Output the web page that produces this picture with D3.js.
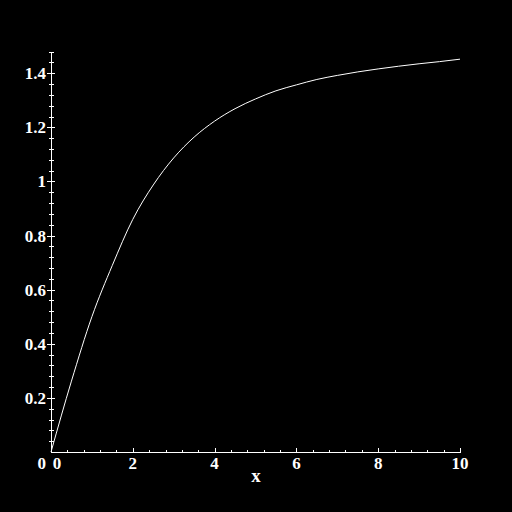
<!DOCTYPE html>
<html>
<head>
<meta charset="utf-8">
<script src="https://cdn.jsdelivr.net/npm/d3@7"></script>
<style>
  body { margin: 0; background: #000; }
  svg { display: block; }
  text { font-family: "Liberation Serif", "DejaVu Serif", serif; font-weight: bold; fill: #fff; }
</style>
</head>
<body>
<svg width="512" height="512"></svg>
<script>
// curve values
var xs = [0, 0.5, 1, 1.5, 2, 2.5, 3, 3.5, 4, 4.5, 5, 5.5, 6, 6.5, 7, 7.5, 8, 8.5, 9, 9.5, 10];
var ys = [0, 0.262, 0.5, 0.69, 0.86, 0.987, 1.087, 1.164, 1.223, 1.269, 1.305, 1.335, 1.357, 1.377, 1.392, 1.405, 1.416, 1.426, 1.435, 1.443, 1.452];

var xMajor = [0, 2, 4, 6, 8, 10];
var yMajor = [0, 0.2, 0.4, 0.6, 0.8, 1, 1.2, 1.4];
var xLabel = "x";

var svg = d3.select("svg");

svg.append("rect").attr("width", 512).attr("height", 512).attr("fill", "#000");

var x = d3.scaleLinear().domain([0, 10]).range([51, 460]);
var y = d3.scaleLinear().domain([0, 1.48]).range([452, 51.6]);

// minor ticks every 0.4 on x, 0.04 on y
var xMinor = d3.range(0, 10.001, 0.4);
var yMinor = d3.range(0, 1.4801, 0.04);

var axes = svg.append("g").attr("stroke", "#fff").attr("stroke-width", 1).attr("shape-rendering", "crispEdges");

// x axis line
axes.append("line")
  .attr("x1", x(0)).attr("x2", x(10))
  .attr("y1", y(0) + 0.5).attr("y2", y(0) + 0.5);

// y axis line
axes.append("line")
  .attr("x1", x(0) + 0.5).attr("x2", x(0) + 0.5)
  .attr("y1", y(1.48)).attr("y2", y(0) + 1);

axes.selectAll(".xminor")
  .data(xMinor.filter(function(d) { return d > 0; }))
  .enter().append("line")
  .attr("x1", function(d) { return Math.round(x(d)) + 0.5; })
  .attr("x2", function(d) { return Math.round(x(d)) + 0.5; })
  .attr("y1", y(0) - 2).attr("y2", y(0) + 1);

axes.selectAll(".xmajor")
  .data(xMajor.filter(function(d) { return d > 0; }))
  .enter().append("line")
  .attr("x1", function(d) { return Math.round(x(d)) + 0.5; })
  .attr("x2", function(d) { return Math.round(x(d)) + 0.5; })
  .attr("y1", y(0) - 4).attr("y2", y(0) + 1);

axes.selectAll(".yminor")
  .data(yMinor.filter(function(d) { return d > 0; }))
  .enter().append("line")
  .attr("x1", x(0) - 2).attr("x2", x(0) + 3)
  .attr("y1", function(d) { return Math.round(y(d)) + 0.5; })
  .attr("y2", function(d) { return Math.round(y(d)) + 0.5; });

axes.selectAll(".ymajor")
  .data(yMajor.filter(function(d) { return d > 0; }))
  .enter().append("line")
  .attr("x1", x(0) - 4).attr("x2", x(0) + 4)
  .attr("y1", function(d) { return Math.round(y(d)) + 0.5; })
  .attr("y2", function(d) { return Math.round(y(d)) + 0.5; });

// labels
svg.selectAll(".xlab")
  .data(xMajor)
  .enter().append("text")
  .attr("x", function(d) { return d == 0 ? x(d) + 6 : x(d); })
  .attr("y", 469)
  .attr("text-anchor", "middle")
  .attr("font-size", 17)
  .text(function(d) { return d; });

svg.selectAll(".ylab")
  .data(yMajor)
  .enter().append("text")
  .attr("x", 46)
  .attr("y", function(d) { return d == 0 ? 469 : y(d) + 6; })
  .attr("text-anchor", "end")
  .attr("font-size", 17)
  .text(function(d) { return d; });

svg.append("text")
  .attr("x", 256).attr("y", 482)
  .attr("text-anchor", "middle")
  .attr("font-size", 19)
  .text(xLabel);

// the curve
var line = d3.line()
  .x(function(d) { return x(d[0]); })
  .y(function(d) { return y(d[1]); })
  .curve(d3.curveMonotoneX);

svg.append("path")
  .datum(xs.map(function(v, i) { return [v, ys[i]]; }))
  .attr("d", line)
  .attr("fill", "none")
  .attr("stroke", "#fff")
  .attr("stroke-width", 1);
</script>
</body>
</html>
